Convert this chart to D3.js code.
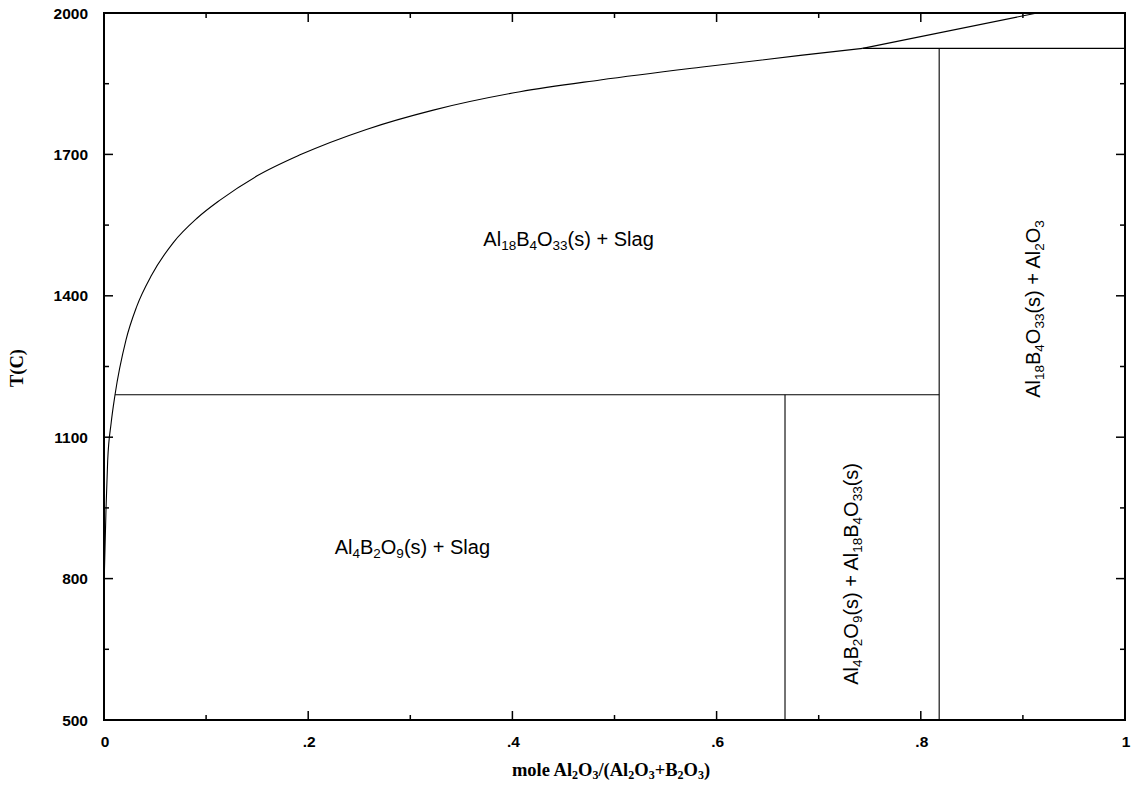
<!DOCTYPE html>
<html>
<head>
<meta charset="utf-8">
<script src="https://cdn.jsdelivr.net/npm/d3@7"></script>
<style>
  html, body { margin: 0; padding: 0; background: #fff; }
  svg { display: block; }
</style>
</head>
<body>
<svg id="chart" width="1136" height="789"></svg>
<script>
// Al2O3–B2O3 phase diagram: mole fraction Al2O3 vs temperature (C)

// Liquidus (slag boundary) from the B2O3 side up to the peritectic point
const liquidusX = [0.0, 0.002, 0.0036, 0.007, 0.0108, 0.0215, 0.032, 0.0467, 0.0679, 0.0908, 0.1136, 0.1496, 0.192, 0.257, 0.3225, 0.4075, 0.486, 0.584, 0.682, 0.743];
const liquidusT = [780, 950, 1050, 1130, 1190, 1306, 1377, 1444, 1513, 1564, 1603, 1654, 1699, 1753, 1794, 1833, 1858, 1885, 1910, 1925];

// Al2O3 liquidus above the peritectic
const upperLiquidusX = [0.743, 0.914];
const upperLiquidusT = [1925, 2000];

// Invariant lines: [x1, T1, x2, T2]
const eutecticLine   = [0.0108, 1190, 0.818, 1190];
const peritecticLine = [0.743, 1925, 1.0, 1925];
const al4b2o9Line    = [0.667, 500, 0.667, 1190];
const al18b4o33Line  = [0.818, 500, 0.818, 1925];

// Axis ticks
const xMajorTicks = [0, 0.2, 0.4, 0.6, 0.8, 1.0];
const xTickLabels = ["0", ".2", ".4", ".6", ".8", "1"];
const xMinorTicks = [0.1, 0.3, 0.5, 0.7, 0.9];
const yMajorTicks = [500, 800, 1100, 1400, 1700, 2000];
const yMinorTicks = [650, 950, 1250, 1550, 1850];

// Phase-field labels: parts as [text, isSubscript]
const fieldLabels = [
  { x: 0.455, T: 1506, rotate: false, parts: [["Al",0],["18",1],["B",0],["4",1],["O",0],["33",1],["(s) + Slag",0]] },
  { x: 0.302, T: 852,  rotate: false, parts: [["Al",0],["4",1],["B",0],["2",1],["O",0],["9",1],["(s) + Slag",0]] },
  { x: 0.7385, T: 810, rotate: true,  parts: [["Al",0],["4",1],["B",0],["2",1],["O",0],["9",1],["(s) + Al",0],["18",1],["B",0],["4",1],["O",0],["33",1],["(s)",0]] },
  { x: 0.917, T: 1372, rotate: true,  parts: [["Al",0],["18",1],["B",0],["4",1],["O",0],["33",1],["(s) + Al",0],["2",1],["O",0],["3",1]] }
];

const svg = d3.select("#chart");
const frame = { left: 104, right: 1125, top: 13, bottom: 720 };

const x = d3.scaleLinear().domain([0, 1]).range([frame.left, frame.right]);
const y = d3.scaleLinear().domain([500, 2000]).range([frame.bottom, frame.top]);

const plot = svg.append("g");

// Phase boundaries
const line = d3.line().x(d => x(d[0])).y(d => y(d[1])).curve(d3.curveMonotoneX);
plot.append("path")
  .datum(liquidusX.map((v, i) => [v, liquidusT[i]]))
  .attr("d", line)
  .attr("fill", "none").attr("stroke", "#000").attr("stroke-width", 1.1);

plot.append("path")
  .datum(upperLiquidusX.map((v, i) => [v, upperLiquidusT[i]]))
  .attr("d", d3.line().x(d => x(d[0])).y(d => y(d[1])))
  .attr("fill", "none").attr("stroke", "#000").attr("stroke-width", 1.1);

[eutecticLine, peritecticLine, al4b2o9Line, al18b4o33Line].forEach(s => {
  plot.append("line")
    .attr("x1", x(s[0])).attr("y1", y(s[1]))
    .attr("x2", x(s[2])).attr("y2", y(s[3]))
    .attr("stroke", "#000").attr("stroke-width", 1.1);
});

// Inward ticks on all four sides
const tickG = svg.append("g").attr("stroke", "#000").attr("stroke-width", 1.5);
function xTicks(vals, len) {
  vals.forEach(v => {
    tickG.append("line").attr("x1", x(v)).attr("x2", x(v)).attr("y1", frame.bottom).attr("y2", frame.bottom - len);
    tickG.append("line").attr("x1", x(v)).attr("x2", x(v)).attr("y1", frame.top).attr("y2", frame.top + len);
  });
}
function yTicks(vals, len) {
  vals.forEach(v => {
    tickG.append("line").attr("y1", y(v)).attr("y2", y(v)).attr("x1", frame.left).attr("x2", frame.left + len);
    tickG.append("line").attr("y1", y(v)).attr("y2", y(v)).attr("x1", frame.right).attr("x2", frame.right - len);
  });
}
xTicks(xMajorTicks, 9);
xTicks(xMinorTicks, 5);
yTicks(yMajorTicks, 9);
yTicks(yMinorTicks, 5);

// Frame
svg.append("rect")
  .attr("x", frame.left).attr("y", frame.top)
  .attr("width", frame.right - frame.left).attr("height", frame.bottom - frame.top)
  .attr("fill", "none").attr("stroke", "#000").attr("stroke-width", 2);

// Tick labels
const tickFont = "Liberation Sans, Arial, sans-serif";
svg.append("g").selectAll("text")
  .data(xMajorTicks)
  .join("text")
  .attr("x", d => x(d) + 1).attr("y", 747)
  .attr("text-anchor", "middle")
  .attr("font-family", tickFont).attr("font-weight", "bold").attr("font-size", 15.5)
  .text((d, i) => xTickLabels[i]);

svg.append("g").selectAll("text")
  .data(yMajorTicks)
  .join("text")
  .attr("x", 88).attr("y", d => y(d) + 5.5)
  .attr("text-anchor", "end")
  .attr("font-family", tickFont).attr("font-weight", "bold").attr("font-size", 15.5)
  .text(d => d);

// Axis titles
const serif = "Liberation Serif, 'Times New Roman', serif";
const xTitle = svg.append("text")
  .attr("x", 611).attr("y", 776)
  .attr("text-anchor", "middle")
  .attr("font-family", serif).attr("font-weight", "bold").attr("font-size", 18.5);
[["mole Al",0],["2",1],["O",0],["3",1],["/(Al",0],["2",1],["O",0],["3",1],["+B",0],["2",1],["O",0],["3",1],[")",0]].forEach(p => {
  xTitle.append("tspan")
    .attr("font-size", p[1] ? 12 : 18.5)
    .attr("baseline-shift", p[1] ? "-3" : null)
    .text(p[0]);
});

svg.append("text")
  .attr("transform", "translate(23,368) rotate(-90)")
  .attr("text-anchor", "middle")
  .attr("font-family", serif).attr("font-weight", "bold").attr("font-size", 18.5)
  .text("T(C)");

// Phase-field labels
fieldLabels.forEach(l => {
  const t = svg.append("text")
    .attr("text-anchor", "middle")
    .attr("font-family", "Liberation Sans, Arial, sans-serif")
    .attr("font-size", 20)
    .attr("fill", "#000")
    .attr("transform", `translate(${x(l.x)},${y(l.T)})` + (l.rotate ? " rotate(-90)" : ""));
  l.parts.forEach(p => {
    t.append("tspan")
      .attr("font-size", p[1] ? 13.5 : 20)
      .attr("baseline-shift", p[1] ? "-4" : null)
      .text(p[0]);
  });
});
</script>
</body>
</html>
